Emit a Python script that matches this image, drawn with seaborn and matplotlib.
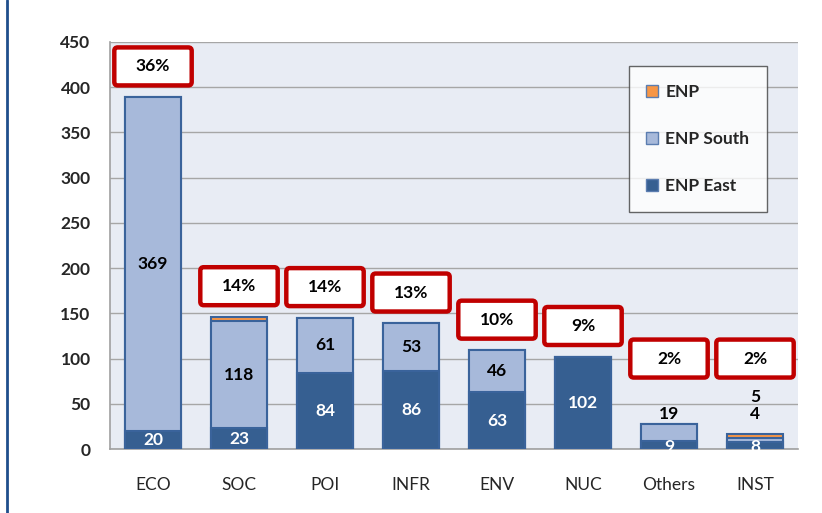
import numpy as np
import pandas as pd
import matplotlib
matplotlib.use("Agg")
import matplotlib.pyplot as plt
import seaborn as sns
from matplotlib.patches import FancyBboxPatch, Patch
from matplotlib.lines import Line2D

# ---- data ----
categories = ["ECO", "SOC", "POI", "INFR", "ENV", "NUC", "Others", "INST"]
enp_east = [20, 23, 84, 86, 63, 102, 9, 8]
enp_south = [369, 118, 61, 53, 46, 0, 19, 4]
enp = [0, 5, 0, 0, 0, 0, 0, 5]
shares = ["36%", "14%", "14%", "13%", "10%", "9%", "2%", "2%"]
series_names = ["ENP", "ENP South", "ENP East"]

# ---- styling ----
sns.set_theme(style="white")
plt.rcParams["font.family"] = ["Lato", "DejaVu Sans"]

C_EAST = "#365F91"
C_SOUTH = "#A7B9DA"
C_ENP = "#F79646"
C_EDGE = "#3A639B"
C_BG = "#E8ECF4"
C_RED = "#C00000"
FS = 12.5

fig = plt.figure(figsize=(8.22, 5.13), dpi=100)
ax = fig.add_axes([110 / 822, (513 - 449) / 513, (798 - 110) / 822, (449 - 42) / 513])
ax.set_facecolor(C_BG)

df = pd.DataFrame({"cat": categories, "east": enp_east, "south": enp_south, "enp": enp})
df["s_top"] = df["east"] + df["south"]
df["total"] = df["s_top"] + df["enp"]

common = dict(order=categories, width=0.66, saturation=1, edgecolor=C_EDGE, linewidth=1.5, ax=ax, zorder=3)
sns.barplot(data=df, x="cat", y="total", color=C_ENP, **common)
sns.barplot(data=df, x="cat", y="s_top", color=C_SOUTH, **common)
sns.barplot(data=df, x="cat", y="east", color=C_EAST, **common)

ax.set_ylim(0, 450)
ax.set_yticks(np.arange(0, 451, 50))
ax.yaxis.grid(True, color="#A6A6A6", linewidth=1, zorder=0)
ax.set_axisbelow(True)
ax.set_xlabel("")
ax.set_ylabel("")
for s in ["top", "right"]:
    ax.spines[s].set_visible(False)
for s in ["left", "bottom"]:
    ax.spines[s].set_color("#A0A0A0")
    ax.spines[s].set_linewidth(1.2)
ax.tick_params(axis="y", length=0, pad=14, labelsize=FS)
ax.tick_params(axis="x", length=0, pad=20, labelsize=FS)
for lbl in ax.get_yticklabels():
    lbl.set_fontweight("bold")

# ---- value labels ----
for i, row in df.iterrows():
    small = row["total"] < 40
    ax.text(i, row["east"] / 2 - (2 if small else 0), str(row["east"]), ha="center", va="center",
            color="white", fontsize=FS, fontweight="bold", zorder=5)
    above = 39
    if row["south"] > 0:
        if small:
            ax.text(i, above, str(row["south"]), ha="center", va="center", color="black",
                    fontsize=FS, fontweight="bold", zorder=5)
            above += 18
        else:
            ax.text(i, row["east"] + row["south"] / 2, str(row["south"]), ha="center", va="center",
                    color="black", fontsize=FS, fontweight="bold", zorder=5)
    if row["enp"] > 0 and small:
        ax.text(i, above, str(row["enp"]), ha="center", va="center", color="black",
                fontsize=FS, fontweight="bold", zorder=5)

# ---- share boxes ----
bw, bh = 0.9, 42
for i, row in df.iterrows():
    yc = max(row["total"] + 34, 100)
    box = FancyBboxPatch((i - bw / 2, yc - bh / 2), bw, bh,
                         boxstyle="round,pad=0,rounding_size=0.04", mutation_aspect=95,
                         facecolor="white", edgecolor=C_RED, linewidth=3.2, zorder=6, clip_on=False)
    ax.add_patch(box)
    ax.text(i, yc, shares[i], ha="center", va="center", fontsize=FS, fontweight="bold",
            color="black", zorder=7, clip_on=False)

# ---- legend ----
handles = [Patch(facecolor=C_ENP, edgecolor="#5B7DB0", linewidth=1),
           Patch(facecolor=C_SOUTH, edgecolor="#5B7DB0", linewidth=1),
           Patch(facecolor=C_EAST, edgecolor="#5B7DB0", linewidth=1)]
leg = ax.legend(handles, series_names, loc="upper left", bbox_to_anchor=(0.754, 0.94),
                frameon=True, fancybox=False, fontsize=FS, labelspacing=1.8,
                handlelength=0.7, handleheight=0.7, handletextpad=0.4,
                borderpad=1.0, borderaxespad=0)
leg.get_frame().set_edgecolor("#404040")
leg.get_frame().set_linewidth(1.0)
leg.get_frame().set_facecolor("white")
leg.set_zorder(8)
for t in leg.get_texts():
    t.set_fontweight("bold")

# slide border line on the left
fig.add_artist(Line2D([7 / 822, 7 / 822], [0, 1], transform=fig.transFigure, color="#1F4E8C", linewidth=2))

fig.savefig("out.png", dpi=100, facecolor="white")
